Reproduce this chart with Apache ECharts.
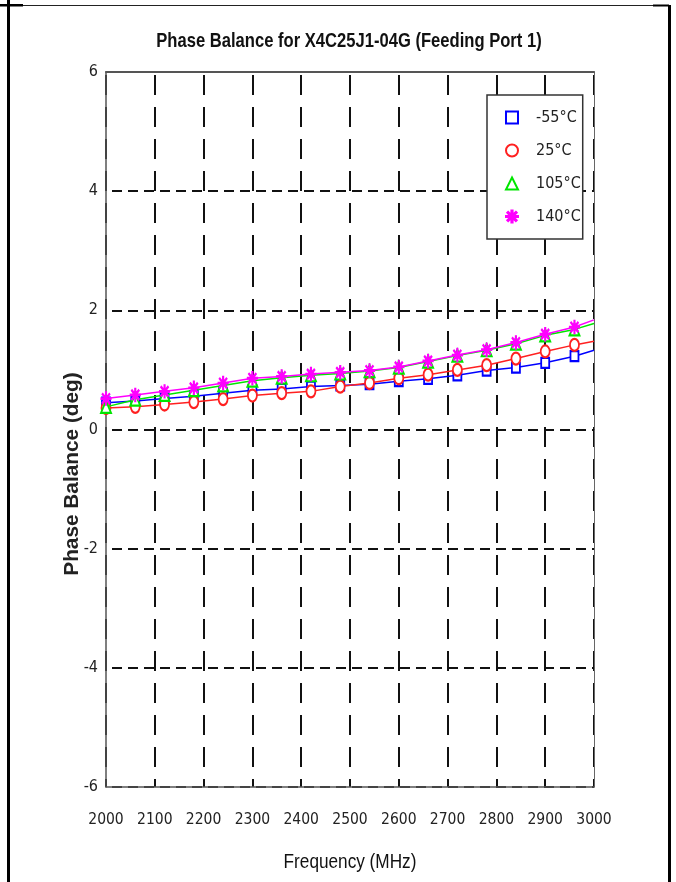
<!DOCTYPE html>
<html>
<head>
<meta charset="utf-8">
<script src="https://cdn.jsdelivr.net/npm/echarts@6/dist/echarts.min.js"></script>
<style>
html,body{margin:0;padding:0;background:#fff;}
#chart{width:676px;height:882px;}
</style>
</head>
<body>
<div id="chart"></div>
<script>
// ---- data ----
const freqs = [2000, 2060, 2120, 2180, 2240, 2300, 2360, 2420, 2480, 2540, 2600, 2660, 2720, 2780, 2840, 2900, 2960, 3000];
const seriesNames = ['-55°C', '25°C', '105°C', '140°C'];
const tempM55 = [0.45, 0.48, 0.52, 0.56, 0.61, 0.66, 0.68, 0.72, 0.74, 0.76, 0.81, 0.85, 0.91, 0.99, 1.04, 1.12, 1.23, 1.33];
const temp25  = [0.36, 0.38, 0.42, 0.46, 0.51, 0.57, 0.61, 0.64, 0.72, 0.78, 0.86, 0.92, 1.00, 1.08, 1.19, 1.31, 1.42, 1.48];
const temp105 = [0.38, 0.50, 0.58, 0.66, 0.74, 0.82, 0.87, 0.91, 0.94, 0.98, 1.04, 1.14, 1.24, 1.33, 1.44, 1.58, 1.68, 1.78];
const temp140 = [0.52, 0.58, 0.64, 0.70, 0.78, 0.86, 0.89, 0.93, 0.96, 0.99, 1.05, 1.15, 1.25, 1.34, 1.46, 1.60, 1.72, 1.84];
const markerLastFreq = 2960; // markers are drawn up to here
const xTicks = [2000, 2100, 2200, 2300, 2400, 2500, 2600, 2700, 2800, 2900, 3000];
const yTicks = [-6, -4, -2, 0, 2, 4, 6];
const chartTitle = 'Phase Balance for X4C25J1-04G (Feeding Port 1)';
const xTitle = 'Frequency (MHz)';
const yTitle = 'Phase Balance (deg)';

const narrow = '"Liberation Sans Narrow","DejaVu Sans Condensed","Arial Narrow",sans-serif';
const sans = '"Liberation Sans",Arial,sans-serif';
const asterisk = 'path://M9,0 h2 v20 h-2 z M0,9 h20 v2 h-20 z M2.2,3.6 L3.6,2.2 L17.8,16.4 L16.4,17.8 Z M16.4,2.2 L17.8,3.6 L3.6,17.8 L2.2,16.4 Z';

function build(vals) {
  return freqs.map((f, i) => f > markerLastFreq ? { value: [f, vals[i]], symbol: 'none' } : [f, vals[i]]);
}

const cfg = [
  { vals: tempM55, color: '#0000ff', symbol: 'emptyRect', size: [8, 10] },
  { vals: temp25,  color: '#ff2020', symbol: 'emptyCircle', size: [9, 12] },
  { vals: temp105, color: '#00e600', symbol: 'emptyTriangle', size: [10, 12] },
  { vals: temp140, color: '#ff00ff', symbol: asterisk, size: [10, 13] }
];

const chart = echarts.init(document.getElementById('chart'), null, { renderer: 'canvas' });

const option = {
  backgroundColor: '#fff',
  animation: false,
  grid: { left: 106, right: 82, top: 72, bottom: 95, containLabel: false },
  legend: {
    orient: 'vertical',
    left: 487, top: 95,
    padding: [14, 2, 14, 6],
    itemWidth: 38, itemHeight: 15, itemGap: 16,
    backgroundColor: '#fff',
    borderColor: '#333', borderWidth: 1.5,
    lineStyle: { width: 0, opacity: 0 },
    textStyle: { fontFamily: narrow, fontSize: 16, lineHeight: 17, color: '#222' },
    data: seriesNames
  },
  xAxis: [{
    type: 'value', min: xTicks[0], max: xTicks[xTicks.length - 1], interval: 100,
    axisLine: { show: true, onZero: false, lineStyle: { color: '#555', width: 1.5 } },
    axisTick: { show: false },
    axisLabel: { margin: 25, fontFamily: narrow, fontSize: 15.5, color: '#222', formatter: v => String(v) },
    splitLine: { show: true, lineStyle: { color: '#111', width: 2, type: [20, 12], dashOffset: 29 } }
  }, {
    type: 'value', position: 'top', min: xTicks[0], max: xTicks[xTicks.length - 1], interval: 100,
    axisLine: { show: true, onZero: false, lineStyle: { color: '#555', width: 2 } },
    axisTick: { show: false }, axisLabel: { show: false }, splitLine: { show: false }
  }],
  yAxis: [{
    type: 'value', min: yTicks[0], max: yTicks[yTicks.length - 1], interval: 2,
    axisLine: { show: true, onZero: false, lineStyle: { color: '#555', width: 1.5 } },
    axisTick: { show: false },
    axisLabel: { margin: 8, fontFamily: narrow, fontSize: 16, color: '#222' },
    splitLine: { show: true, lineStyle: { color: '#111', width: 2, type: [10, 6], dashOffset: 10 } }
  }, {
    type: 'value', position: 'right', min: yTicks[0], max: yTicks[yTicks.length - 1], interval: 2,
    axisLine: { show: true, onZero: false, lineStyle: { color: '#666', width: 1 } },
    axisTick: { show: false }, axisLabel: { show: false }, splitLine: { show: false }
  }],
  graphic: [
    { type: 'text', x: 349, y: 41, scaleX: 0.79,
      style: { text: chartTitle, fontFamily: sans, fontSize: 21, fontWeight: 'bold', fill: '#111', textAlign: 'center', textVerticalAlign: 'middle' } },
    { type: 'text', x: 350, y: 862, scaleX: 0.86,
      style: { text: xTitle, fontFamily: sans, fontSize: 20, fill: '#111', textAlign: 'center', textVerticalAlign: 'middle' } },
    { type: 'text', x: 72, y: 474, rotation: Math.PI / 2, scaleX: 1.04,
      style: { text: yTitle, fontFamily: sans, fontSize: 20, fontWeight: 'bold', fill: '#222', textAlign: 'center', textVerticalAlign: 'middle' } },
    { type: 'rect', shape: { x: 7, y: 0, width: 3, height: 882 }, style: { fill: '#000' } },
    { type: 'rect', shape: { x: 668, y: 5, width: 3, height: 877 }, style: { fill: '#000' } },
    { type: 'rect', shape: { x: 0, y: 4, width: 23, height: 2.5 }, style: { fill: '#000' } },
    { type: 'rect', shape: { x: 23, y: 5, width: 630, height: 1 }, style: { fill: '#222' } },
    { type: 'rect', shape: { x: 653, y: 4.5, width: 16, height: 2 }, style: { fill: '#000' } }
  ],
  series: cfg.map((c, k) => ({
    name: seriesNames[k],
    type: 'line',
    data: build(c.vals),
    symbol: c.symbol,
    symbolSize: c.size,
    showSymbol: true,
    showAllSymbol: true,
    color: c.color,
    lineStyle: { color: c.color, width: 1.5 },
    itemStyle: { color: c.color, borderColor: c.color, borderWidth: 1.3 },
    emphasis: { disabled: true },
    z: 3 + k
  }))
};
chart.setOption(option);
</script>
</body>
</html>
